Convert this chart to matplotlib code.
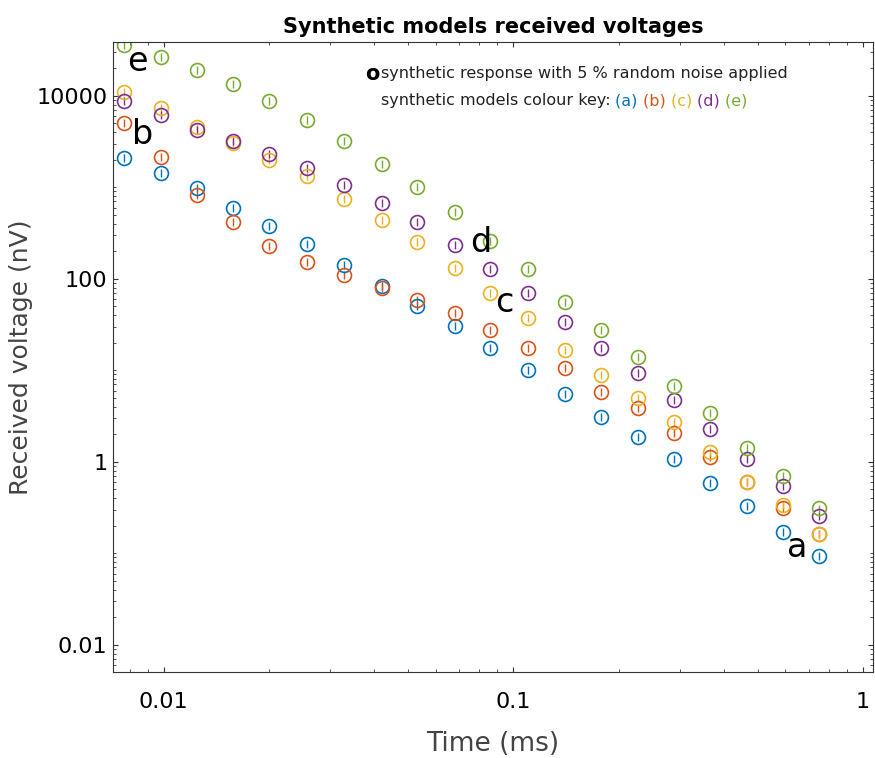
import matplotlib.pyplot as plt
from matplotlib.ticker import FixedLocator, LogLocator, NullFormatter

# time gates (ms)
times = [0.0077, 0.0098, 0.0125, 0.0158, 0.0200, 0.0257, 0.0329, 0.0420, 0.0530, 0.0680,
         0.0860, 0.110, 0.141, 0.178, 0.227, 0.288, 0.365, 0.465, 0.59, 0.75]

# received voltages (nV) per synthetic model
volt_a = [2100, 1440, 990, 597, 380, 241, 142, 84, 51, 30.6,
          17.6, 10.1, 5.5, 3.1, 1.88, 1.08, 0.59, 0.33, 0.172, 0.094]
volt_b = [5070, 2150, 830, 420, 230, 153, 111, 80, 59, 42.5,
          27.7, 17.6, 10.6, 5.8, 3.9, 2.07, 1.13, 0.60, 0.314, 0.163]
volt_c = [11060, 7400, 4580, 3060, 2000, 1335, 750, 440, 254, 132,
          70, 37.5, 16.7, 8.9, 5.0, 2.74, 1.29, 0.60, 0.34, 0.163]
volt_d = [8800, 6200, 4250, 3220, 2320, 1630, 1070, 680, 420, 235,
          129, 70, 34, 17.6, 9.4, 4.76, 2.3, 1.08, 0.55, 0.257]
volt_e = [36000, 26700, 19200, 13500, 8800, 5470, 3220, 1810, 1010, 540,
          260, 129, 56, 27.7, 14.1, 6.8, 3.4, 1.42, 0.70, 0.31]

model_names = ['a', 'b', 'c', 'd', 'e']
colours = ['#0072BD', '#D95319', '#EDB120', '#7E2F8E', '#77AC30']

fig = plt.figure(figsize=(8.75, 7.58), dpi=100)
ax = fig.add_axes([0.129, 0.113, 0.869, 0.832])

for volts, col in zip([volt_a, volt_b, volt_c, volt_d, volt_e], colours):
    # 5 % noise shown as small error bars inside the circles
    err = [v * 0.05 * 2 for v in volts]
    ax.errorbar(times, volts, yerr=err, fmt='o', mfc='none', mec=col, ecolor=col,
                ms=10, mew=1.2, elinewidth=1.0, capsize=0)

ax.set_xscale('log')
ax.set_yscale('log')
ax.set_xlim(0.00716, 1.07)
ax.set_ylim(0.005, 39000)

ax.set_xticks([0.01, 0.1, 1])
ax.set_xticklabels(['0.01', '0.1', '1'])
ax.yaxis.set_major_locator(FixedLocator([0.01, 1, 100, 10000]))
ax.set_yticklabels(['0.01', '1', '100', '10000'])
ax.yaxis.set_minor_locator(LogLocator(base=10, subs=range(1, 10), numticks=20))
ax.yaxis.set_minor_formatter(NullFormatter())
ax.tick_params(which='both', direction='in', top=True, right=True, labelsize=16, color='#333333')
ax.tick_params(axis='x', which='major', pad=14)
ax.tick_params(axis='y', which='major', pad=4)
for sp in ax.spines.values():
    sp.set_color('#333333')

ax.set_xlabel('Time (ms)', fontsize=19, color='#444444', labelpad=14)
ax.set_ylabel('Received voltage (nV)', fontsize=18, color='#444444', labelpad=2)
ax.set_title('Synthetic models received voltages', fontsize=15, fontweight='bold', pad=6)

# model labels
label_pos = {'a': (0.65, 0.115), 'b': (0.0087, 3750), 'c': (0.0943, 55),
             'd': (0.0805, 247), 'e': (0.0084, 23500)}
for name in model_names:
    x, y = label_pos[name]
    ax.text(x, y, name, fontsize=24, ha='center', va='center')

# legend-like text
ax.text(0.332, 0.949, 'o', transform=ax.transAxes, fontsize=15, fontweight='bold', va='center')
ax.text(0.352, 0.949, 'synthetic response with 5 % random noise applied',
        transform=ax.transAxes, fontsize=11.5, va='center', color='#222222')
t = ax.text(0.352, 0.906, 'synthetic models colour key: ', transform=ax.transAxes,
            fontsize=11.5, va='center', color='#222222')
fig.canvas.draw()
renderer = fig.canvas.get_renderer()
for name, col in zip(model_names, colours):
    bb = t.get_window_extent(renderer).transformed(ax.transAxes.inverted())
    t = ax.text(bb.x1, 0.906, f'({name}) ', transform=ax.transAxes,
                fontsize=11.5, va='center', color=col)

fig.savefig('out.png', dpi=100)
